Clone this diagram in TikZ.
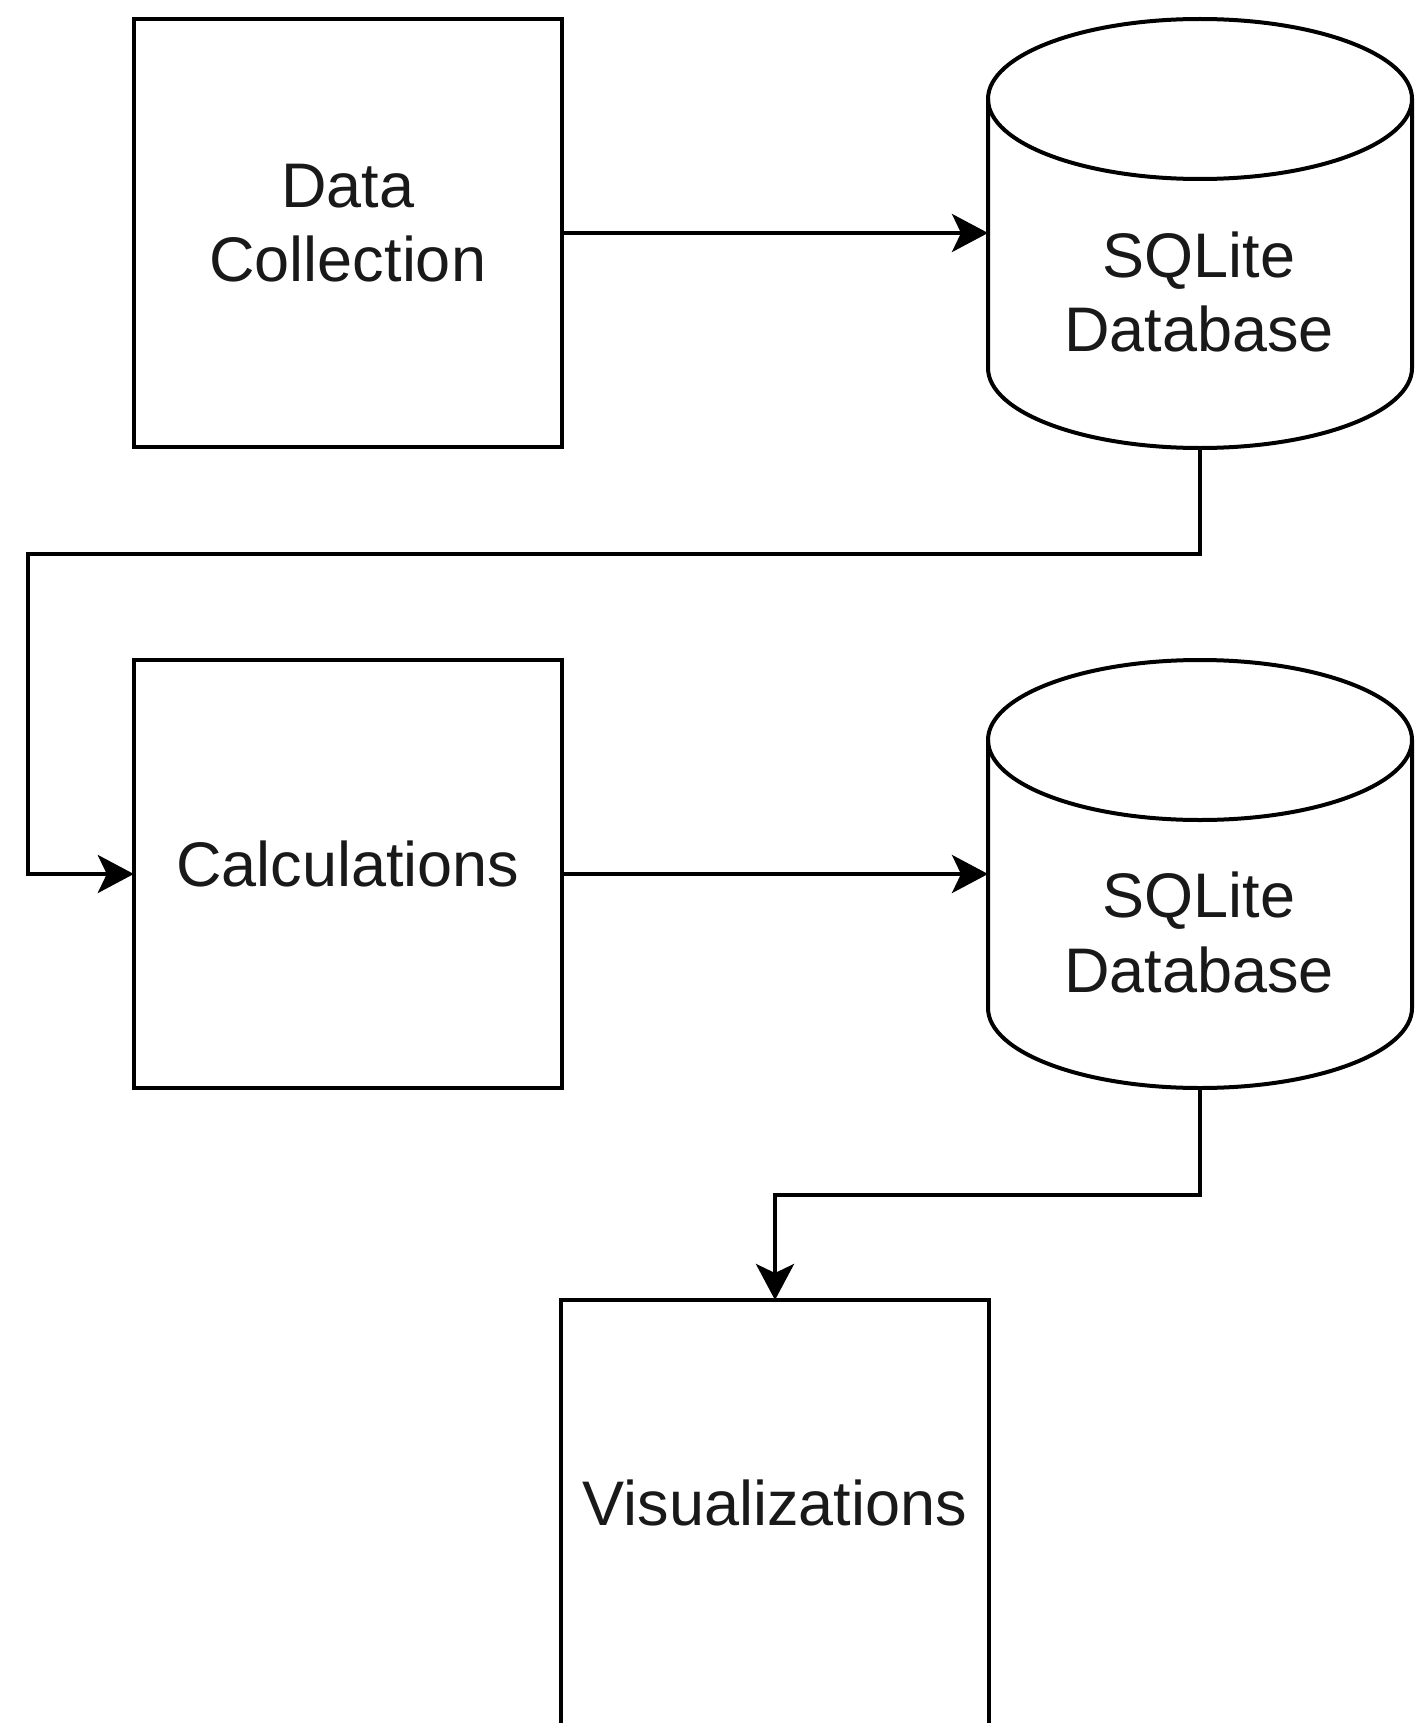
\documentclass[tikz,border=0pt]{standalone}
\usepackage{fontspec}
\setmainfont{Liberation Sans}
\usetikzlibrary{arrows.meta}
\tikzset{
  ln/.style={line width=4pt, draw=black},
  boxnode/.style={ln, rectangle, inner sep=0pt, outer sep=0pt, minimum width=428pt, minimum height=428pt},
  cylarea/.style={rectangle, inner sep=0pt, outer sep=0pt, minimum width=424pt, minimum height=428pt},
  lbl/.style={align=center, inner sep=0pt, font=\fontsize{63}{74.5}\selectfont, text=black!90},
  conn/.style={ln, -{Stealth[length=36pt, width=38pt, inset=9pt]}},
}
\begin{document}
\begin{tikzpicture}[x=1pt, y=-1pt]
\clip (0,0) rectangle (1419,1723);
\fill[white] (0,0) rectangle (1419,1723);

% boxes
\node[boxnode] (dc) at (347.8,233) {};
\node[lbl] (dct) at (347.8,223) {Data\\Collection};
\node[boxnode] (calc) at (347.8,874) {};
\node[lbl] (calct) at (347.8,864) {Calculations};
\node[boxnode, minimum height=430pt] (vis) at (775,1515) {};
\node[lbl] (vist) at (775,1503) {Visualizations};

% cylinder 1
\node[cylarea] (db1) at (1200,233) {};
\draw[ln] (988,99) -- (988,368) arc[start angle=180, end angle=0, x radius=212, y radius=80] -- (1412,99);
\draw[ln] (1200,99) ellipse [x radius=212, y radius=80];
\node[lbl] (db1t) at (1199,292) {SQLite\\Database};

% cylinder 2
\node[cylarea] (db2) at (1200,874) {};
\draw[ln] (988,740) -- (988,1008) arc[start angle=180, end angle=0, x radius=212, y radius=80] -- (1412,740);
\draw[ln] (1200,740) ellipse [x radius=212, y radius=80];
\node[lbl] (db2t) at (1199,932.5) {SQLite\\Database};

% connectors
\coordinate (bend1) at (27.5,553.5);
\coordinate (bend2) at (775,1194.5);
\draw[conn] (dc.east) -- (db1.west);
\draw[conn] (db1.south) |- (bend1) |- (calc.west);
\draw[conn] (calc.east) -- (db2.west);
\draw[conn] (db2.south) |- (bend2) -- (vis.north);
\end{tikzpicture}
\end{document}
